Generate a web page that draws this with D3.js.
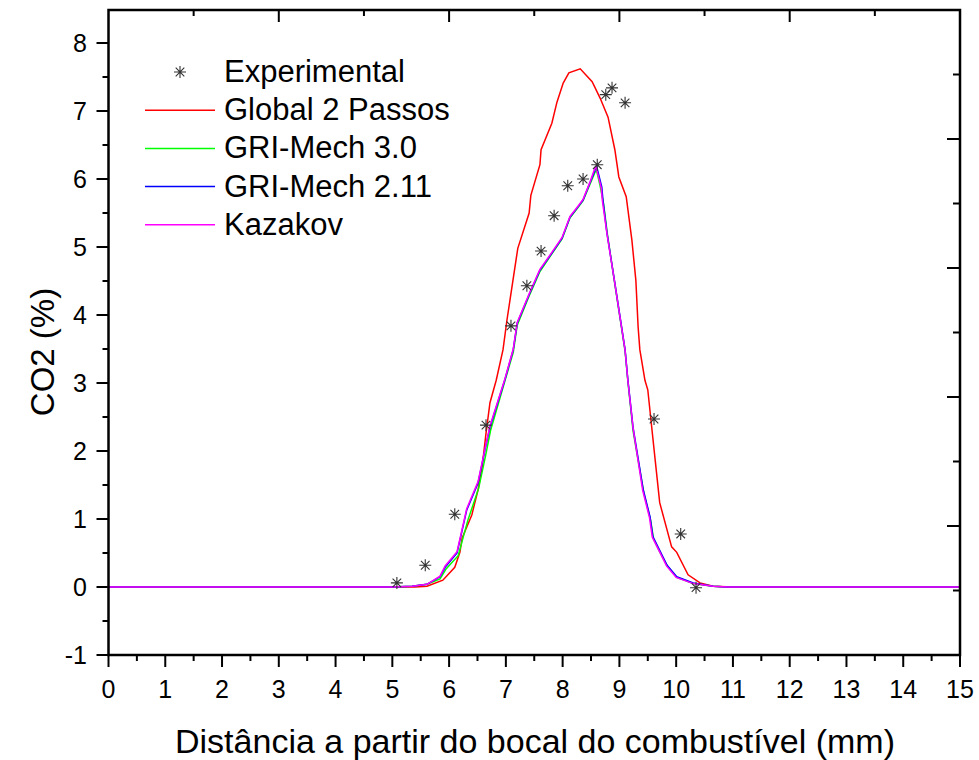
<!DOCTYPE html>
<meta charset="utf-8">
<head>
    <script type="text/javascript" src="https://cdn.jsdelivr.net/npm/d3@7"></script>
    <style>
        body { margin: 0; background: #fff; }
        text { font-family: "Liberation Sans", Arial, sans-serif; fill: #000; }
    </style>
    <title>CO2 (%)</title>
</head>
<body>
<div id="chart"></div>
<script>
    // experimental points
    var expX = [5.08, 5.58, 6.10, 6.65, 7.09, 7.37, 7.62, 7.85, 8.09, 8.36, 8.61, 8.76, 8.87, 9.10, 9.61, 10.08, 10.35];
    var expY = [0.06, 0.32, 1.07, 2.38, 3.84, 4.43, 4.94, 5.46, 5.90, 6.00, 6.21, 7.24, 7.34, 7.12, 2.47, 0.78, -0.01];

    // Global 2 Passos
    var globX = [0, 5.0, 5.4, 5.61, 5.89, 6.10, 6.19, 6.23, 6.40, 6.51, 6.58, 6.65, 6.72, 6.83, 6.95, 7.02, 7.21, 7.41, 7.44, 7.60, 7.62, 7.81, 7.90, 8.01, 8.11, 8.31, 8.52, 8.66, 8.80, 8.92, 8.99, 9.12, 9.22, 9.29, 9.33, 9.36, 9.45, 9.50, 9.63, 9.71, 9.92, 10.01, 10.21, 10.42, 10.65, 11.0, 15];
    var globY = [0, 0, 0, 0.01, 0.10, 0.29, 0.51, 0.72, 1.06, 1.43, 1.75, 2.26, 2.71, 3.04, 3.49, 3.93, 4.98, 5.50, 5.76, 6.21, 6.43, 6.82, 7.13, 7.41, 7.56, 7.62, 7.43, 7.19, 6.91, 6.43, 6.03, 5.74, 5.10, 4.51, 3.82, 3.49, 3.04, 2.90, 1.87, 1.24, 0.59, 0.51, 0.18, 0.06, 0.01, 0, 0];

    // GRI-Mech 3.0
    var gri30X = [0, 5.0, 5.35, 5.61, 5.84, 5.95, 6.16, 6.33, 6.52, 6.64, 6.73, 6.98, 7.13, 7.20, 7.42, 7.60, 7.81, 7.99, 8.13, 8.27, 8.36, 8.48, 8.57, 8.60, 8.66, 8.72, 8.79, 8.92, 9.10, 9.15, 9.24, 9.43, 9.55, 9.60, 9.72, 9.85, 10.01, 10.30, 10.65, 10.9, 15];
    var gri30Y = [0, 0, 0.01, 0.04, 0.12, 0.27, 0.46, 0.98, 1.45, 1.92, 2.30, 3.02, 3.45, 3.85, 4.30, 4.64, 4.90, 5.12, 5.43, 5.58, 5.68, 5.92, 6.10, 6.12, 5.90, 5.64, 5.18, 4.45, 3.47, 3.02, 2.30, 1.38, 0.98, 0.71, 0.50, 0.30, 0.14, 0.05, 0.01, 0, 0];

    // GRI-Mech 2.11
    var gri211X = [0, 5.0, 5.35, 5.61, 5.84, 5.93, 6.14, 6.31, 6.51, 6.63, 6.72, 6.98, 7.13, 7.20, 7.42, 7.60, 7.81, 7.99, 8.13, 8.27, 8.36, 8.48, 8.57, 8.60, 8.69, 8.71, 8.78, 8.92, 9.10, 9.15, 9.24, 9.42, 9.54, 9.59, 9.71, 9.84, 10.01, 10.30, 10.65, 10.9, 15];
    var gri211Y = [0, 0, 0.01, 0.04, 0.15, 0.29, 0.50, 1.13, 1.53, 2.01, 2.35, 3.04, 3.49, 3.88, 4.32, 4.66, 4.91, 5.13, 5.44, 5.59, 5.69, 5.94, 6.13, 6.18, 5.88, 5.69, 5.21, 4.47, 3.49, 3.04, 2.35, 1.43, 1.03, 0.74, 0.54, 0.32, 0.15, 0.06, 0.01, 0, 0];

    // Kazakov
    var kazX = [0, 5.0, 5.35, 5.61, 5.84, 5.93, 6.14, 6.31, 6.51, 6.63, 6.72, 6.98, 7.13, 7.20, 7.42, 7.60, 7.81, 7.99, 8.13, 8.27, 8.36, 8.48, 8.56, 8.59, 8.68, 8.70, 8.78, 8.92, 9.10, 9.15, 9.24, 9.41, 9.53, 9.58, 9.70, 9.83, 10.00, 10.30, 10.65, 10.9, 15];
    var kazY = [0, 0, 0.01, 0.04, 0.16, 0.31, 0.52, 1.15, 1.55, 2.02, 2.37, 3.05, 3.50, 3.89, 4.33, 4.67, 4.92, 5.14, 5.45, 5.60, 5.70, 5.95, 6.14, 6.17, 5.87, 5.68, 5.20, 4.46, 3.48, 3.03, 2.34, 1.42, 1.02, 0.73, 0.53, 0.31, 0.14, 0.05, 0.01, 0, 0];

    var xTicks = d3.range(0, 16, 1);
    var yTicks = d3.range(-1, 9, 1);
    var legendNames = ["Experimental", "Global 2 Passos", "GRI-Mech 3.0", "GRI-Mech 2.11", "Kazakov"];
    var colors = ["#000000", "#ff0000", "#00ff00", "#0000ff", "#ff00ff"];

    var width = 979, height = 760;
    var pLeft = 108.5, pRight = 960, pTop = 10, pBottom = 655;

    var svg = d3.select("#chart").append("svg")
        .attr("width", width)
        .attr("height", height);

    var x = d3.scaleLinear().domain([0, 15]).range([pLeft, pRight]);
    var y = d3.scaleLinear().domain([-1, 8.485]).range([pBottom, pTop]);
    // opposite axes have their own tick spacing
    var yR = d3.scaleLinear().domain([0, 10]).range([pBottom, pTop]);

    // curves
    var line = d3.line().x(d => x(d[0])).y(d => y(d[1]));
    var series = [[globX, globY], [gri30X, gri30Y], [gri211X, gri211Y], [kazX, kazY]];
    series.forEach(function (s, i) {
        svg.append("path")
            .datum(d3.zip(s[0], s[1]))
            .attr("d", line)
            .attr("fill", "none")
            .attr("stroke", colors[i + 1])
            .attr("stroke-width", 1.5);
    });

    // asterisk marker
    var star = "M0,-6V6M-6,0H6M-4.3,-4.3L4.3,4.3M-4.3,4.3L4.3,-4.3";
    svg.append("g").selectAll("path")
        .data(d3.zip(expX, expY))
        .enter().append("path")
        .attr("transform", d => "translate(" + x(d[0]) + "," + y(d[1]) + ")")
        .attr("d", star)
        .attr("fill", "none")
        .attr("stroke", "#333")
        .attr("stroke-width", 1.1);

    // frame
    svg.append("rect")
        .attr("x", pLeft).attr("y", pTop)
        .attr("width", pRight - pLeft).attr("height", pBottom - pTop)
        .attr("fill", "none").attr("stroke", "#000").attr("stroke-width", 2.5);

    var ticks = svg.append("g").attr("stroke", "#000").attr("stroke-width", 2);

    // bottom ticks (outward)
    d3.range(0, 15.01, 0.5).forEach(function (v) {
        var major = Math.abs(v - Math.round(v)) < 1e-6;
        ticks.append("line").attr("x1", x(v)).attr("x2", x(v))
            .attr("y1", pBottom).attr("y2", pBottom + (major ? 12 : 6));
    });
    // left ticks (outward)
    d3.range(-1, 8.01, 0.5).forEach(function (v) {
        var major = Math.abs(v - Math.round(v)) < 1e-6;
        ticks.append("line").attr("y1", y(v)).attr("y2", y(v))
            .attr("x1", pLeft).attr("x2", pLeft - (major ? 12 : 6));
    });
    // top ticks (inward), every 1.5
    d3.range(1, 10).forEach(function (k) {
        var major = k % 2 === 0;
        ticks.append("line").attr("x1", x(k * 1.5)).attr("x2", x(k * 1.5))
            .attr("y1", pTop).attr("y2", pTop + (major ? 12 : 6));
    });
    // right ticks (inward)
    d3.range(1, 10).forEach(function (k) {
        var major = k % 2 === 0;
        ticks.append("line").attr("y1", yR(k)).attr("y2", yR(k))
            .attr("x1", pRight).attr("x2", pRight - (major ? 13 : 7));
    });

    // tick labels
    svg.append("g").selectAll("text")
        .data(xTicks).enter().append("text")
        .attr("x", d => x(d)).attr("y", 698)
        .attr("text-anchor", "middle")
        .style("font-size", "25px")
        .text(d => d);
    svg.append("g").selectAll("text")
        .data(yTicks).enter().append("text")
        .attr("x", 87).attr("y", d => y(d) + 9)
        .attr("text-anchor", "end")
        .style("font-size", "25px")
        .text(d => d);

    // axis titles
    svg.append("text")
        .attr("x", 535).attr("y", 753)
        .attr("text-anchor", "middle")
        .style("font-size", "34px")
        .text("Distância a partir do bocal do combustível (mm)");
    svg.append("text")
        .attr("transform", "translate(54,352) rotate(-90)")
        .attr("text-anchor", "middle")
        .style("font-size", "33px")
        .text("CO2 (%)");

    // legend
    var legend = svg.append("g");
    legendNames.forEach(function (name, i) {
        var ly = 72 + i * 38.2;
        if (i === 0) {
            legend.append("path")
                .attr("transform", "translate(180," + ly + ")")
                .attr("d", star).attr("fill", "none")
                .attr("stroke", "#333").attr("stroke-width", 1.1);
        } else {
            legend.append("line")
                .attr("x1", 145).attr("x2", 215)
                .attr("y1", ly).attr("y2", ly)
                .attr("stroke", colors[i]).attr("stroke-width", 1.5);
        }
        legend.append("text")
            .attr("x", 224).attr("y", ly + 10)
            .style("font-size", "31px")
            .text(name);
    });
</script>
</body>
</html>
